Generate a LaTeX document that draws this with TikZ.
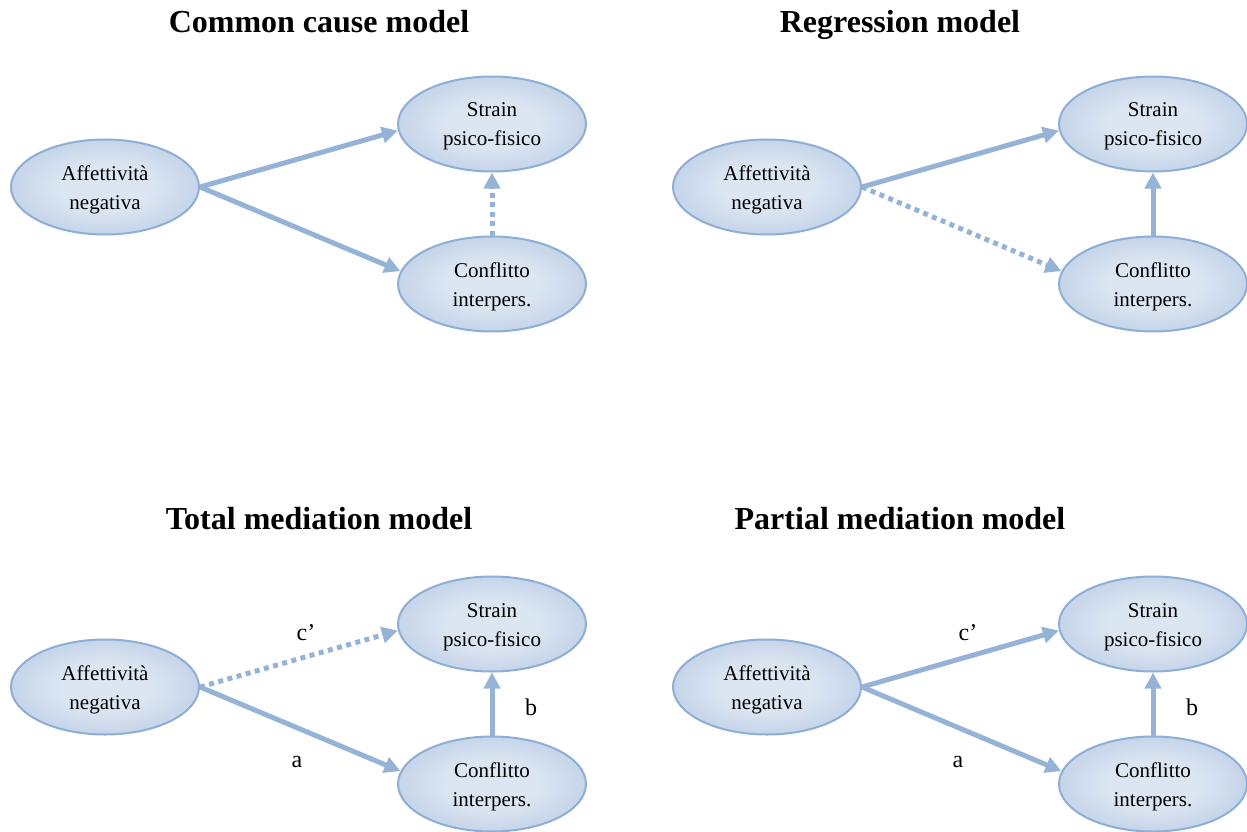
\documentclass[tikz,border=0pt]{standalone}
\usepackage{fontspec}
\setmainfont{Liberation Serif}
\usetikzlibrary{arrows.meta,shapes.geometric}
\definecolor{arr}{HTML}{95B3D7}
\definecolor{bord}{HTML}{8FAED6}
\definecolor{lite}{HTML}{DCE6F2}
\definecolor{dark}{HTML}{9CB5D9}
\pgfdeclareradialshading{ellshade}{\pgfpoint{0bp}{0bp}}{color(0bp)=(lite); color(12bp)=(lite); color(48bp)=(dark); color(100bp)=(dark)}
\tikzset{
  ell/.style={ellipse, draw=bord, line width=2pt, shading=ellshade, minimum width=188pt, minimum height=95pt, inner sep=0pt, align=center, font=\fontsize{21}{29}\selectfont, text height=44pt, text depth=0pt},
  ttl/.style={anchor=base, font=\fontsize{32}{36}\selectfont\bfseries},
  lbl/.style={anchor=base, font=\fontsize{24}{28}\selectfont},
  con/.style={draw=arr, line width=5pt, -{Triangle[length=16pt,width=16pt]}},
  dsh/.style={con, dash pattern=on 5pt off 4.5pt}
}
\begin{document}
\begin{tikzpicture}[x=1pt,y=-1pt]
\useasboundingbox (0,0) rectangle (1247,832);
% titles
\node[ttl] (t1) at (319,33) {Common cause model};
\node[ttl] (t2) at (900,33) {Regression model};
\node[ttl] (t3) at (319,529) {Total mediation model};
\node[ttl] (t4) at (900,529) {Partial mediation model};
% panel 1
\node[ell] (a1) at (105,187) {Affettività\\negativa};
\node[ell] (s1) at (492,124) {Strain\\psico-fisico};
\node[ell] (c1) at (492,284) {Conflitto\\interpers.};
\draw[con] (a1.east) -- (s1.184);
\draw[con] (a1.east) -- (c1.172);
\draw[dsh] (c1.north) -- (s1.south);
% panel 2
\node[ell] (a2) at (767,187) {Affettività\\negativa};
\node[ell] (s2) at (1153,124) {Strain\\psico-fisico};
\node[ell] (c2) at (1153,284) {Conflitto\\interpers.};
\draw[con] (a2.east) -- (s2.184);
\draw[dsh] (a2.east) -- (c2.172);
\draw[con] (c2.north) -- (s2.south);
% panel 3
\node[ell] (a3) at (105,687) {Affettività\\negativa};
\node[ell] (s3) at (492,624) {Strain\\psico-fisico};
\node[ell] (c3) at (492,784) {Conflitto\\interpers.};
\draw[dsh] (a3.east) -- (s3.184);
\draw[con] (a3.east) -- (c3.172);
\draw[con] (c3.north) -- (s3.south);
\node[lbl] (l3c) at (306,640) {c’};
\node[lbl] (l3a) at (297,767) {a};
\node[lbl] (l3b) at (531,715) {b};
% panel 4
\node[ell] (a4) at (767,687) {Affettività\\negativa};
\node[ell] (s4) at (1153,624) {Strain\\psico-fisico};
\node[ell] (c4) at (1153,784) {Conflitto\\interpers.};
\draw[con] (a4.east) -- (s4.184);
\draw[con] (a4.east) -- (c4.172);
\draw[con] (c4.north) -- (s4.south);
\node[lbl] (l4c) at (968,640) {c’};
\node[lbl] (l4a) at (958,767) {a};
\node[lbl] (l4b) at (1192,715) {b};
\end{tikzpicture}
\end{document}
